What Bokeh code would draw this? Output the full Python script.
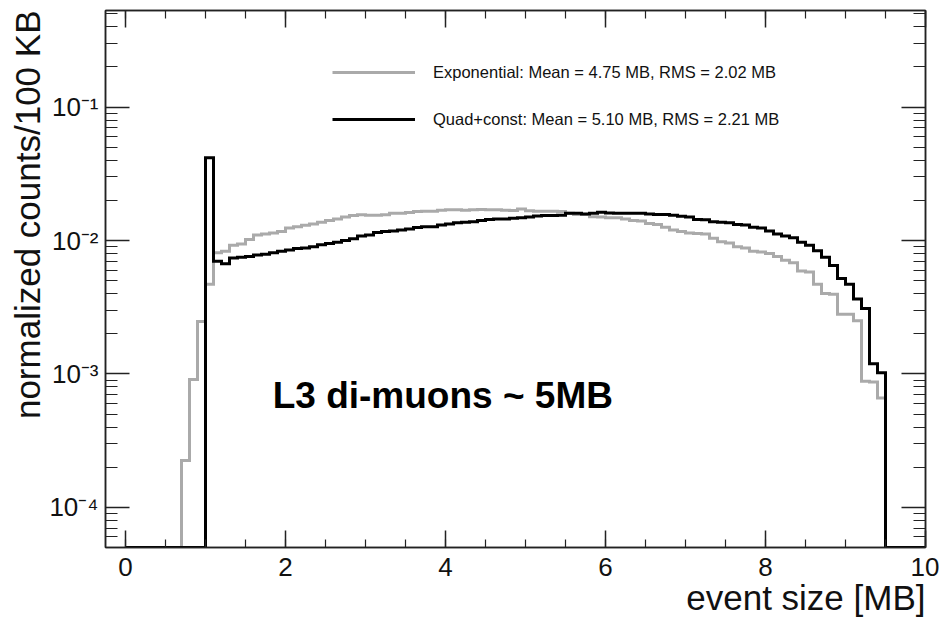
import numpy as np
from bokeh.plotting import figure
from bokeh.models import (FixedTicker, CustomJSTickFormatter, LinearAxis, LogAxis,
                          Legend, LegendItem, Label, Title)
from bokeh.embed import file_html
from bokeh.resources import INLINE

# ---------------- data ----------------
BIN_START = 0.0          # MB
BIN_WIDTH = 0.1          # MB (100 KB bins)

# normalized counts per 100 KB bin, bins 0.0 ... 9.9 MB (10 bins per row)
exponential = [
    0, 0, 0, 0, 0, 0, 0, 2.24e-4, 9.1e-4, 2.47e-3,
    4.7e-3, 8.1e-3, 8.3e-3, 9.2e-3, 9.4e-3, 1.02e-2, 1.10e-2, 1.12e-2, 1.14e-2, 1.17e-2,
    1.24e-2, 1.27e-2, 1.30e-2, 1.33e-2, 1.37e-2, 1.41e-2, 1.45e-2, 1.50e-2, 1.54e-2, 1.56e-2,
    1.55e-2, 1.55e-2, 1.56e-2, 1.60e-2, 1.60e-2, 1.62e-2, 1.65e-2, 1.66e-2, 1.66e-2, 1.69e-2,
    1.70e-2, 1.70e-2, 1.69e-2, 1.70e-2, 1.71e-2, 1.70e-2, 1.70e-2, 1.69e-2, 1.68e-2, 1.72e-2,
    1.67e-2, 1.66e-2, 1.66e-2, 1.66e-2, 1.65e-2, 1.60e-2, 1.57e-2, 1.57e-2, 1.51e-2, 1.50e-2,
    1.48e-2, 1.48e-2, 1.45e-2, 1.41e-2, 1.40e-2, 1.34e-2, 1.32e-2, 1.26e-2, 1.20e-2, 1.17e-2,
    1.14e-2, 1.13e-2, 1.12e-2, 1.04e-2, 9.8e-3, 9.6e-3, 9.0e-3, 8.8e-3, 8.3e-3, 8.2e-3,
    8.0e-3, 7.6e-3, 7.1e-3, 6.8e-3, 5.9e-3, 5.8e-3, 4.7e-3, 4.0e-3, 3.95e-3, 2.8e-3,
    2.8e-3, 2.5e-3, 8.8e-4, 8.7e-4, 6.6e-4, 0, 0, 0, 0, 0,
]

quad_const = [
    0, 0, 0, 0, 0, 0, 0, 0, 0, 0,
    4.17e-2, 7.0e-3, 6.7e-3, 7.4e-3, 7.5e-3, 7.6e-3, 7.8e-3, 7.9e-3, 8.1e-3, 8.3e-3,
    8.5e-3, 8.7e-3, 8.8e-3, 9.0e-3, 9.3e-3, 9.5e-3, 9.7e-3, 1.00e-2, 1.03e-2, 1.08e-2,
    1.10e-2, 1.15e-2, 1.17e-2, 1.18e-2, 1.20e-2, 1.22e-2, 1.25e-2, 1.27e-2, 1.27e-2, 1.31e-2,
    1.33e-2, 1.36e-2, 1.37e-2, 1.38e-2, 1.41e-2, 1.44e-2, 1.45e-2, 1.45e-2, 1.47e-2, 1.48e-2,
    1.50e-2, 1.53e-2, 1.54e-2, 1.54e-2, 1.55e-2, 1.60e-2, 1.60e-2, 1.58e-2, 1.60e-2, 1.63e-2,
    1.61e-2, 1.60e-2, 1.60e-2, 1.60e-2, 1.60e-2, 1.58e-2, 1.57e-2, 1.57e-2, 1.55e-2, 1.52e-2,
    1.50e-2, 1.44e-2, 1.43e-2, 1.38e-2, 1.37e-2, 1.36e-2, 1.32e-2, 1.31e-2, 1.26e-2, 1.24e-2,
    1.18e-2, 1.12e-2, 1.08e-2, 1.05e-2, 9.7e-3, 9.2e-3, 8.4e-3, 7.5e-3, 6.5e-3, 5.2e-3,
    4.7e-3, 3.65e-3, 3.1e-3, 1.19e-3, 1.02e-3, 0, 0, 0, 0, 0,
]

series_labels = [
    "Exponential: Mean = 4.75 MB, RMS = 2.02 MB",
    "Quad+const: Mean = 5.10 MB, RMS = 2.21 MB",
]
x_tick_values = [0, 2, 4, 6, 8, 10]
y_tick_values = [1e-4, 1e-3, 1e-2, 1e-1]
x_title = "event size [MB]"
y_title = "normalized counts/100 KB"
annotation = "L3 di-muons ~ 5MB"

# ---------------- styling ----------------
FONT = "Liberation Sans"
X_RANGE = (-0.25, 10.0)
Y_RANGE = (5e-5, 0.53)
GREY = "#aaaaaa"
BLACK = "#000000"

p = figure(width=939, height=624, x_range=X_RANGE, y_range=Y_RANGE,
           y_axis_type="log", output_backend="svg", toolbar_location=None,
           min_border_left=105, min_border_right=14, min_border_top=10,
           min_border_bottom=77)
p.xgrid.visible = False
p.ygrid.visible = False
p.outline_line_color = "#222222"
p.outline_line_width = 1.5
p.background_fill_color = "white"
p.border_fill_color = "white"

n = len(exponential)
edges = [BIN_START + BIN_WIDTH * i for i in range(n + 1)]


def step_y(vals):
    # empty bins are drawn on the lower frame edge (log axis)
    ys = [v if v > 0 else Y_RANGE[0] for v in vals]
    return ys + [ys[-1]]


r_exp = p.step(edges, step_y(exponential), mode="after", line_color=GREY,
               line_width=3, line_join="miter")
r_quad = p.step(edges, step_y(quad_const), mode="after", line_color=BLACK,
                line_width=3, line_join="miter")

# ---------------- axes ----------------
x_minor = [i * 0.5 for i in range(0, 21)]
y_minor = [m * 10.0 ** e for e in range(-5, 0) for m in range(2, 10)]


def style_axis(ax, major_in, minor_in):
    ax.major_tick_in = major_in
    ax.major_tick_out = 0
    ax.minor_tick_in = minor_in
    ax.minor_tick_out = 0
    ax.axis_line_color = "#222222"
    ax.axis_line_width = 1.5
    ax.major_tick_line_color = "#222222"
    ax.minor_tick_line_color = "#222222"
    ax.major_tick_line_width = 1.5
    ax.minor_tick_line_width = 1.2
    ax.major_label_text_font = FONT
    ax.major_label_text_font_size = "26px"
    ax.major_label_text_color = "#111111"


xa = p.xaxis[0]
xa.ticker = FixedTicker(ticks=x_tick_values, minor_ticks=x_minor)
style_axis(xa, 17, 8)
xa.major_label_standoff = 10

ya = p.yaxis[0]
ya.ticker = FixedTicker(ticks=y_tick_values, minor_ticks=y_minor)
style_axis(ya, 24, 12)
ya.formatter = CustomJSTickFormatter(code="""
const sup = {"-": "\u207b", "0": "\u2070", "1": "\u00b9", "2": "\u00b2", "3": "\u00b3",
             "4": "\u2074", "5": "\u2075", "6": "\u2076", "7": "\u2077", "8": "\u2078", "9": "\u2079"};
const e = Math.round(Math.log10(tick));
return "10" + String(e).split("").map(c => sup[c]).join("");
""")
ya.major_label_standoff = 7

# axis titles, right-aligned (top-aligned for the vertical one) as in the original
p.add_layout(Title(text=x_title, align="right", text_font=FONT,
                   text_font_size="35px", text_font_style="normal",
                   text_color="#111111", standoff=-6), "below")
p.add_layout(Title(text=y_title, align="right", text_font=FONT,
                   text_font_size="35px", text_font_style="normal",
                   text_color="#111111", standoff=0), "left")

empty = "return ''"
top = LinearAxis(ticker=FixedTicker(ticks=x_tick_values, minor_ticks=x_minor),
                 formatter=CustomJSTickFormatter(code=empty))
style_axis(top, 17, 8)
top.major_label_text_font_size = "0px"
top.major_label_standoff = 0
p.add_layout(top, "above")

right = LogAxis(ticker=FixedTicker(ticks=y_tick_values, minor_ticks=y_minor),
                formatter=CustomJSTickFormatter(code=empty))
style_axis(right, 24, 12)
right.major_label_text_font_size = "0px"
right.major_label_standoff = 0
p.add_layout(right, "right")

# ---------------- legend ----------------
legend = Legend(items=[LegendItem(label=series_labels[0], renderers=[r_exp]),
                       LegendItem(label=series_labels[1], renderers=[r_quad])],
                location=(227, 418), orientation="vertical",
                glyph_width=83, glyph_height=20, label_height=20,
                label_standoff=18, spacing=27, padding=0, margin=0,
                border_line_color=None, background_fill_alpha=0,
                label_text_font=FONT, label_text_font_size="16.5px",
                label_text_color="#111111")
p.add_layout(legend)

p.add_layout(Label(x=1.84, y=6.85e-4, x_units="data", y_units="data",
                   text=annotation, text_font=FONT, text_font_size="37px",
                   text_font_style="bold", text_baseline="alphabetic",
                   text_color="black"))

open("out.html", "w").write(file_html(p, INLINE, title="event size"))
